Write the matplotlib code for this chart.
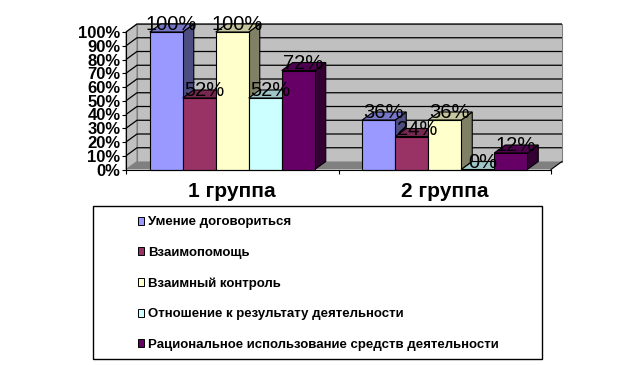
import numpy as np
import matplotlib
matplotlib.use("Agg")
import matplotlib.pyplot as plt
from matplotlib.patches import Polygon, Rectangle
from matplotlib.colors import to_rgb

plt.rcParams["font.family"] = ["Liberation Sans", "DejaVu Sans"]

groups = ["1 группа", "2 группа"]
series_names = [
    "Умение договориться",
    "Взаимопомощь",
    "Взаимный контроль",
    "Отношение к результату деятельности",
    "Рациональное использование средств деятельности",
]
values = [
    [100, 36],
    [52, 24],
    [100, 36],
    [52, 0],
    [72, 12],
]
colors = ["#9999FF", "#993366", "#FFFFCC", "#CCFFFF", "#660066"]
y_ticks = list(range(0, 101, 10))

W, H = 636, 365
fig = plt.figure(figsize=(W / 100, H / 100), dpi=100)
# front plane of the fake 3d box, in pixels
ax = fig.add_axes([126 / W, 1 - 169.5 / H, 425 / W, 137.5 / H])
ax.set_xlim(-0.5, 1.5)
ax.set_ylim(0, 100)

# depth offset in data units (11px right, 8px up)
dx = 11 / 212.5
dy = 8 / 137.5 * 100
bar_w = 33 / 212.5


def shade(c, f):
    return tuple(v * f for v in to_rgb(c))


def poly(pts, color, z, ec="none", lw=0.0):
    ax.add_patch(Polygon(pts, closed=True, fc=color, ec=ec, lw=lw, zorder=z, clip_on=False))


x0, x1 = ax.get_xlim()
poly([(x0 + dx, dy), (x1 + dx, dy), (x1 + dx, 100 + dy), (x0 + dx, 100 + dy)], "#C0C0C0", 1, "#808080", 0.8)
poly([(x0, 0), (x0 + dx, dy), (x0 + dx, 100 + dy), (x0, 100)], "#C0C0C0", 1, "#808080", 0.8)
poly([(x0, 0), (x1, 0), (x1 + dx, dy), (x0 + dx, dy)], "#808080", 1)

for t in y_ticks[1:]:
    ax.plot([x0, x0 + dx, x1 + dx], [t, t + dy, t + dy], color="black", lw=0.9, zorder=2,
            clip_on=False, solid_capstyle="butt")
ax.plot([x1, x1 + dx], [0, dy], color="black", lw=0.8, zorder=2, clip_on=False)

offsets = (np.arange(len(series_names)) - 2) * bar_w
for i, name in enumerate(series_names):
    xs = np.arange(len(groups)) + offsets[i]
    z = 3 + i
    ax.bar(xs, values[i], width=bar_w, color=colors[i], edgecolor="black", linewidth=0.8,
           zorder=z + 0.5, clip_on=False)
    for x, v in zip(xs, values[i]):
        l, r = x - bar_w / 2, x + bar_w / 2
        poly([(r, 0), (r + dx, dy), (r + dx, v + dy), (r, v)], shade(colors[i], 0.5), z, "black", 0.8)
        poly([(l, v), (r, v), (r + dx, v + dy), (l + dx, v + dy)], shade(colors[i], 0.78), z, "black", 0.8)

for i in range(len(series_names)):
    xs = np.arange(len(groups)) + offsets[i]
    for x, v in zip(xs, values[i]):
        ax.text(x + dx * 0.45, v + dy - 0.7, f"{v}%", ha="center", va="center", fontsize=14.5,
                color="black", zorder=20, clip_on=False)

for s in ["top", "right"]:
    ax.spines[s].set_visible(False)
ax.spines["left"].set_linewidth(0.8)
ax.spines["bottom"].set_linewidth(0.8)
ax.spines["left"].set_zorder(2)
ax.spines["bottom"].set_zorder(15)
ax.set_yticks(y_ticks)
ax.set_yticklabels([f"{t}%" for t in y_ticks], fontsize=12, fontweight="bold")
ax.tick_params(axis="y", length=3, width=0.8, pad=1)
ax.set_xticks([-0.5, 0.5, 1.5])
ax.set_xticklabels([])
ax.tick_params(axis="x", length=3, width=0.8)
ax.set_xticks([0, 1], minor=True)
ax.set_xticklabels(groups, minor=True, fontsize=15, fontweight="bold")
ax.tick_params(axis="x", which="minor", length=0, pad=9)

# legend frame
fig.add_artist(Rectangle((92.5 / W, 1 - 359 / H), 449.5 / W, 153 / H, transform=fig.transFigure,
                         fc="white", ec="black", lw=1.0, zorder=30))
handles = [Rectangle((0, 0), 1, 1, fc=c, ec="black", lw=0.7) for c in colors]
leg = fig.legend(handles, series_names, loc="upper left",
                 bbox_to_anchor=(137.5 / W, 1 - 216.5 / H), bbox_transform=fig.transFigure,
                 frameon=False, ncols=1, prop={"size": 9.5, "weight": "bold"},
                 handlelength=0.5, handleheight=0.55, handletextpad=0.3,
                 labelspacing=1.4, borderpad=0, borderaxespad=0)
leg.set_zorder(40)

fig.savefig("out.png", dpi=100, facecolor="white")
plt.close(fig)
